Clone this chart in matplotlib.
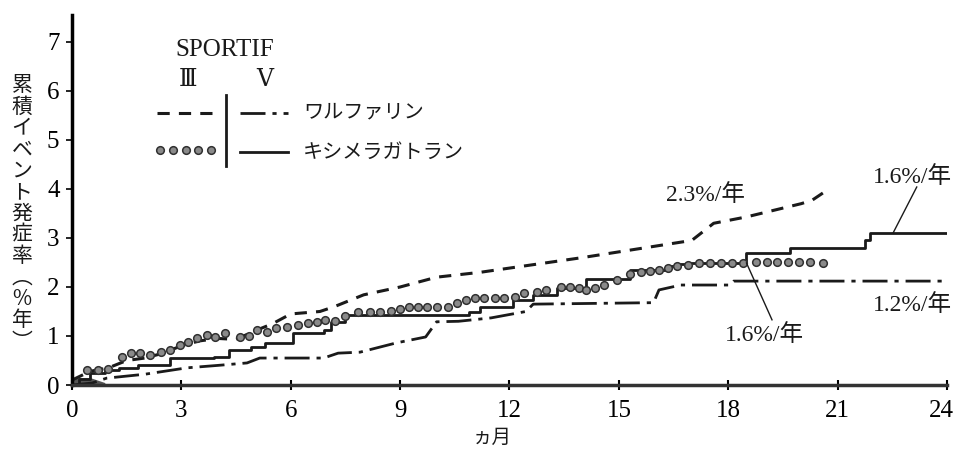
import numpy as np
import matplotlib
matplotlib.use("Agg")
import matplotlib.pyplot as plt
from matplotlib.lines import Line2D
from matplotlib.transforms import ScaledTranslation

# ---- data (months, cumulative event rate %) ----
# warfarin, SPORTIF III (dashed)
w3_x = [0, 0.5, 1.0, 1.5, 2.0, 2.5, 3.0, 3.5, 4.0, 4.5, 5.0, 5.5, 6.0, 6.8, 7.2,
        8.0, 9.0, 10.0, 11.2, 14.0, 17.0, 17.6, 18.5, 20.0, 20.3, 20.6]
w3_y = [0.1, 0.28, 0.35, 0.5, 0.55, 0.65, 0.8, 0.9, 0.95, 0.93, 1.1, 1.25, 1.45,
        1.5, 1.6, 1.84, 2.0, 2.2, 2.3, 2.6, 2.95, 3.3, 3.43, 3.7, 3.77, 3.92]

# warfarin, SPORTIF V (dash-dot)
w5_x = [0, 0.55, 0.95, 2.0, 3.15, 4.0, 4.8, 5.15, 6.9, 7.3, 7.9, 8.9, 9.7, 10.0,
        10.6, 11.5, 12.45, 12.65, 15.95, 16.1, 16.7, 18.05, 18.15, 24]
w5_y = [0, 0.04, 0.14, 0.22, 0.35, 0.4, 0.45, 0.55, 0.55, 0.65, 0.67, 0.86, 0.98,
        1.29, 1.3, 1.37, 1.5, 1.65, 1.68, 1.94, 2.04, 2.04, 2.12, 2.12]

# ximelagatran, SPORTIF III (dots)
x3_x = [0.4, 0.7, 1.0, 1.37, 1.62, 1.87, 2.14, 2.45, 2.7, 2.95, 3.18, 3.42, 3.7,
        3.92, 4.2, 4.6, 4.85, 5.07, 5.35, 5.6, 5.9, 6.2, 6.47, 6.72, 6.95, 7.2,
        7.5, 7.85, 8.17, 8.45, 8.75, 9.0, 9.25, 9.5, 9.75, 10.0, 10.3, 10.55,
        10.8, 11.05, 11.3, 11.6, 11.85, 12.15, 12.4, 12.75, 13.0, 13.4, 13.65,
        13.9, 14.1, 14.35, 14.6, 14.95, 15.3, 15.6, 15.85, 16.1, 16.35, 16.6,
        16.9, 17.2, 17.5, 17.8, 18.1, 18.4, 18.75, 19.05, 19.35, 19.65, 19.95,
        20.25, 20.6]
x3_y = [0.3, 0.3, 0.33, 0.57, 0.65, 0.65, 0.61, 0.67, 0.71, 0.82, 0.88, 0.96, 1.02,
        0.98, 1.06, 0.98, 1.0, 1.12, 1.08, 1.16, 1.19, 1.22, 1.26, 1.29, 1.33, 1.3,
        1.4, 1.49, 1.49, 1.49, 1.52, 1.55, 1.6, 1.6, 1.6, 1.6, 1.6, 1.67,
        1.73, 1.77, 1.77, 1.77, 1.77, 1.8, 1.87, 1.9, 1.94, 2.0, 2.0,
        1.98, 1.94, 1.98, 2.04, 2.14, 2.26, 2.3, 2.32, 2.34, 2.38, 2.42,
        2.45, 2.48, 2.49, 2.49, 2.49, 2.49, 2.5, 2.5, 2.5, 2.5, 2.5,
        2.5, 2.49]

# ximelagatran, SPORTIF V (solid, step)
x5_x = [0, 0.2, 0.5, 0.9, 1.3, 1.8, 2.7, 3.9, 4.3, 4.9, 5.3, 6.05, 6.9, 7.1, 7.5,
        10.9, 11.2, 12.1, 12.65, 13.3, 14.1, 15.3, 16.3, 16.6, 16.9, 18.5, 19.7,
        21.75, 21.9, 24]
x5_y = [0, 0.12, 0.25, 0.3, 0.35, 0.41, 0.55, 0.57, 0.71, 0.78, 0.85, 1.06, 1.12,
        1.29, 1.43, 1.49, 1.59, 1.73, 1.84, 1.98, 2.16, 2.35, 2.42, 2.46, 2.49,
        2.69, 2.8, 2.95, 3.1, 3.1]

x_ticks = list(range(0, 25, 3))
y_ticks = list(range(0, 8))
ylabel_chars = list("累積イベント発症率") + ["︵", "%", "年", "︶"]

# annotations: text, position
rate_labels = [("2.3%/年", 16.3, 3.88), ("1.6%/年", 21.97, 4.24),
               ("1.2%/年", 21.97, 1.63), ("1.6%/年", 17.9, 1.02)]
leaders = [((23.17, 4.04), (22.52, 3.1)), ((19.2, 1.33), (18.5, 2.49))]

SERIF = ["Liberation Serif", "DejaVu Serif", "Noto Sans CJK JP"]
JP = ["Noto Sans CJK JP", "DejaVu Sans"]
INK = "#1a1a1a"
DOT = dict(ls="none", marker="o", ms=5.5, mfc="#8a8a8a", mec="#303030", mew=1.1)

W, H = 956, 451
fig = plt.figure(figsize=(W / 100, H / 100), dpi=100)
ax = fig.add_axes([72 / W, 1 - 385 / H, 875 / W, 370 / H])


def fx(px):
    return px / W


def fy(py):
    return 1 - py / H


# curves
ax.plot(w3_x, w3_y, color=INK, lw=2.2, ls=(0, (4, 3)))
ax.plot(w5_x, w5_y, color=INK, lw=2.0, ls=(0, (9, 2.5, 1.5, 2.5)))
ax.step(x5_x, x5_y, where="post", color=INK, lw=2.0)
ax.plot(x3_x, x3_y, **DOT)
# dark smudge near the origin
ax.fill_between([0, 0.5, 0.9], [0.15, 0.15, 0.05], 0, color="#555555", lw=0)

ax.set_xlim(0, 24)
ax.set_ylim(0, 7.55)
ax.set_xticks(x_ticks)
ax.set_yticks(y_ticks)
for s in ["top", "right"]:
    ax.spines[s].set_visible(False)
ax.spines["left"].set_linewidth(2.5)
ax.spines["bottom"].set_linewidth(2.5)
ax.spines["bottom"].set_color("#333333")
ax.tick_params(axis="x", direction="inout", length=7, width=1.5, pad=7)
ax.tick_params(axis="y", direction="out", length=4, width=1.2, pad=5)
for lab in ax.get_xticklabels() + ax.get_yticklabels():
    lab.set_family(SERIF)
    lab.set_fontsize(18)
# last x label sits a little left of its tick, as in the original
last = ax.get_xticklabels()[-1]
last.set_transform(last.get_transform() + ScaledTranslation(-6 / 100, 0, fig.dpi_scale_trans))

for txt, xx, yy in rate_labels:
    ax.text(xx, yy, txt, family=SERIF, fontsize=17, va="center", ha="left",
            color=INK)
for (a, b) in leaders:
    ax.plot([a[0], b[0]], [a[1], b[1]], color=INK, lw=1.0)

# y label, written vertically
for i, ch in enumerate(ylabel_chars):
    fig.text(fx(22), fy(85 + i * 21.4), ch, family=JP, fontsize=15,
             ha="center", va="center", color=INK)

fig.text(fx(492), fy(437), "ヵ月", family=JP, fontsize=14, ha="center",
         va="center", color=INK)

# legend block
fig.text(fx(225), fy(50), "SPORTIF", family=SERIF, fontsize=18,
         ha="center", va="center", color=INK)
fig.text(fx(188), fy(80), "Ⅲ", family=SERIF, fontsize=17, ha="center",
         va="center", color=INK)
fig.text(fx(265), fy(80), "Ⅴ", family=SERIF, fontsize=17, ha="center",
         va="center", color=INK)
fig.add_artist(Line2D([fx(226), fx(226)], [fy(95), fy(166)], color=INK, lw=2))
fig.add_artist(Line2D([fx(157), fx(215)], [fy(113), fy(113)], color=INK,
                      lw=2.2, ls=(0, (4, 3))))
fig.add_artist(Line2D([fx(240), fx(288)], [fy(113), fy(113)], color=INK,
                      lw=2.0, ls=(0, (9, 2.5, 1.5, 2.5))))
fig.add_artist(Line2D([fx(240), fx(288)], [fy(152), fy(152)], color=INK,
                      lw=2.0))
fig.add_artist(Line2D(np.linspace(fx(160), fx(211), 5), [fy(150)] * 5, **DOT))
fig.text(fx(303), fy(112), "ワルファリン", family=JP, fontsize=14.5,
         ha="left", va="center", color=INK)
fig.text(fx(303), fy(152), "キシメラガトラン", family=JP, fontsize=14.5,
         ha="left", va="center", color=INK)

fig.savefig("out.png", dpi=100)
